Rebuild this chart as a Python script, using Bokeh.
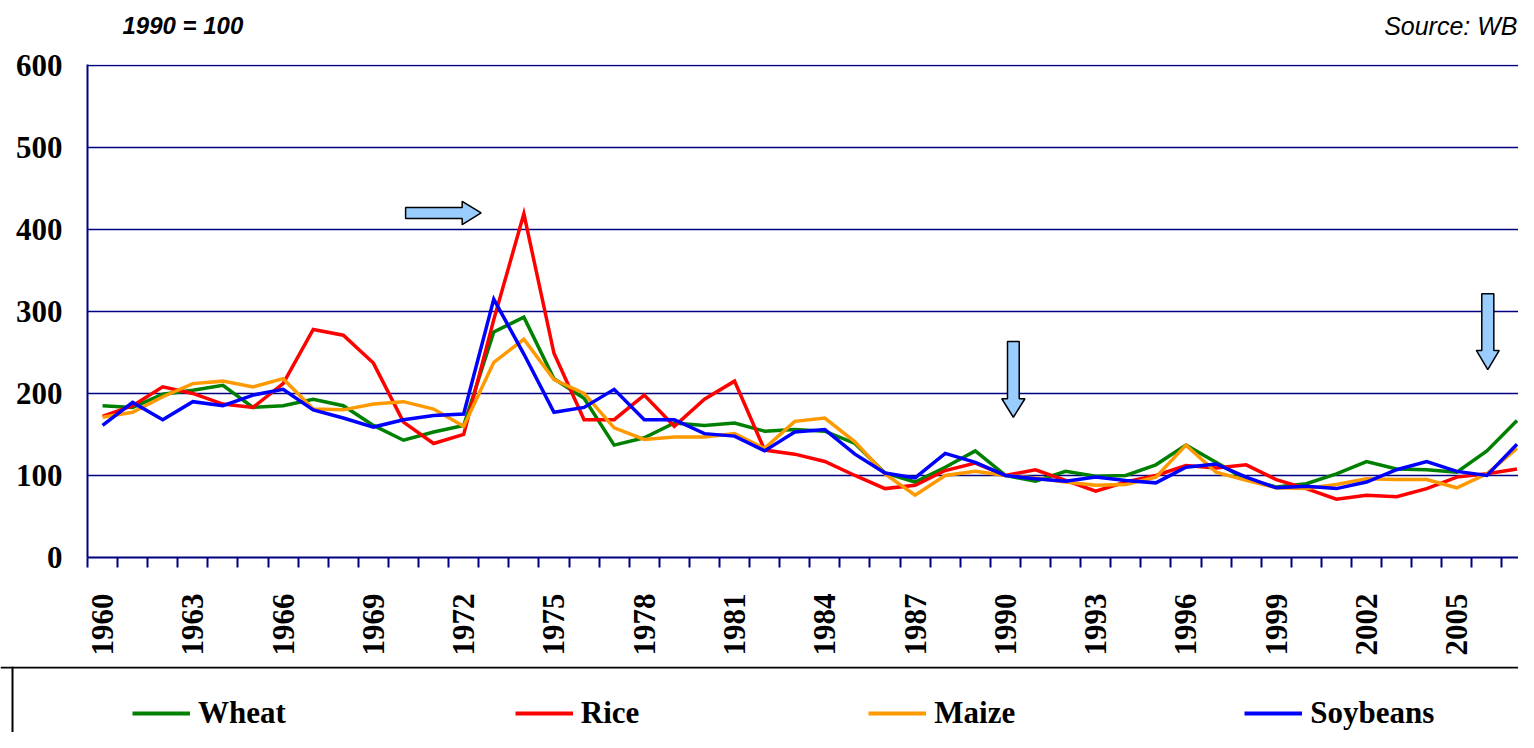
import math
from bokeh.plotting import figure
from bokeh.models import Range1d, FixedTicker, PolyAnnotation, Span, Legend, LegendItem
from bokeh.core.properties import value
from bokeh.layouts import column, row
from bokeh.embed import file_html
from bokeh.resources import INLINE

# ---------------- data (1990 = 100) ----------------
years = list(range(1960, 2008))
wheat = [185, 183, 199, 204, 210, 183, 185, 193, 185, 161, 143, 153, 161, 275, 293, 218,
         194, 137, 146, 164, 161, 164, 154, 156, 154, 139, 103, 92, 110, 130, 100, 93,
         105, 99, 100, 113, 137, 116, 95, 86, 90, 102, 117, 108, 107, 104, 130, 167]
rice = [172, 185, 208, 200, 187, 183, 212, 278, 271, 237, 165, 139, 150, 290, 419, 249,
        168, 168, 198, 160, 193, 215, 131, 126, 117, 100, 84, 88, 106, 115, 100, 107,
        94, 81, 92, 100, 112, 109, 113, 95, 84, 71, 76, 74, 84, 98, 102, 108]
maize = [171, 177, 196, 212, 215, 208, 218, 181, 180, 187, 190, 181, 160, 238, 266, 217,
         200, 158, 144, 147, 147, 151, 133, 166, 170, 141, 102, 76, 100, 105, 100, 97,
         92, 88, 89, 98, 137, 104, 94, 85, 84, 89, 96, 95, 95, 85, 102, 133]
soybeans = [161, 189, 168, 190, 185, 198, 205, 180, 170, 159, 168, 173, 175, 315, 248, 177,
            183, 205, 168, 168, 151, 148, 130, 153, 156, 126, 103, 97, 127, 116, 100, 96,
            93, 98, 94, 91, 110, 114, 98, 85, 87, 84, 92, 107, 117, 105, 100, 138]

series_names = ["Wheat", "Rice", "Maize", "Soybeans"]
series_values = [wheat, rice, maize, soybeans]
series_colors = ["#008000", "#FF0000", "#FF9900", "#0000FF"]

x_tick_labels = list(range(1960, 2006, 3))
y_ticks = [0, 100, 200, 300, 400, 500, 600]

header_left = "1990 = 100"
header_right = "Source: WB"

NAVY = "#000080"
SERIF = "Liberation Serif"
SANS = "Liberation Sans"
W = 1518
LEFT = 87
FRAME_W = W - LEFT

# ---------------- header strip ----------------
H0 = 46
p0 = figure(width=W, height=H0, x_range=Range1d(0, FRAME_W), y_range=Range1d(0, H0),
            title=None, output_backend="svg", toolbar_location=None,
            x_axis_location=None, y_axis_location=None,
            min_border_left=LEFT, min_border_right=0, min_border_top=0, min_border_bottom=0)
p0.outline_line_color = None
p0.grid.visible = False
p0.text(x=[35], y=[21], text=[header_left], text_font=value(SANS),
        text_font_style="bold italic", text_font_size="24px",
        text_baseline="alphabetic", text_align="left", text_color="black")
p0.text(x=[FRAME_W - 1], y=[21], text=[header_right], text_font=value(SANS),
        text_font_style="italic", text_font_size="25px",
        text_baseline="alphabetic", text_align="right", text_color="black")

# ---------------- main chart ----------------
p = figure(width=W, height=620, x_range=Range1d(1959.5, 2007.05), y_range=Range1d(0, 601),
           title=None, output_backend="svg", toolbar_location=None,
           min_border_left=LEFT, min_border_right=0, min_border_top=18, min_border_bottom=109)
p.outline_line_color = None

for name, vals, col in zip(series_names, series_values, series_colors):
    p.line(years, vals, line_color=col, line_width=3.5, line_join="miter")

p.xgrid.visible = False
p.yaxis.ticker = FixedTicker(ticks=y_ticks)
p.ygrid.grid_line_color = NAVY
p.ygrid.grid_line_width = 1.5

p.yaxis.axis_line_color = NAVY
p.yaxis.axis_line_width = 2
p.yaxis.major_tick_out = 0
p.yaxis.major_tick_in = 0
p.yaxis.minor_tick_out = 0
p.yaxis.minor_tick_in = 0
p.yaxis.major_label_standoff = 25
p.yaxis.major_label_text_font = SERIF
p.yaxis.major_label_text_font_style = "bold"
p.yaxis.major_label_text_font_size = "31px"
p.yaxis.major_label_text_color = "black"

p.xaxis.ticker = FixedTicker(ticks=x_tick_labels,
                             minor_ticks=[y - 0.5 for y in years] + [years[-1] + 0.5])
p.xaxis.axis_line_color = NAVY
p.xaxis.axis_line_width = 2
p.xaxis.major_tick_out = 0
p.xaxis.major_tick_in = 0
p.xaxis.minor_tick_in = 0
p.xaxis.minor_tick_out = 10
p.xaxis.minor_tick_line_color = NAVY
p.xaxis.minor_tick_line_width = 2
p.xaxis.major_label_orientation = math.pi / 2
p.xaxis.major_label_standoff = 26
p.xaxis.major_label_text_font = SERIF
p.xaxis.major_label_text_font_style = "bold"
p.xaxis.major_label_text_font_size = "31px"
p.xaxis.major_label_text_color = "black"

# block arrows (annotations)
ARROW_FILL = "#99CCFF"
arrows = [
    ([1970.07, 1971.95, 1971.95, 1972.58, 1971.95, 1971.95, 1970.07],
     [426.75, 426.75, 434.25, 420.0, 405.75, 413.25, 413.25]),
    ([1990.07, 1990.46, 1990.46, 1990.65, 1990.265, 1989.88, 1990.07],
     [263.4, 263.4, 193.5, 193.5, 171.0, 193.5, 193.5]),
    ([2005.83, 2006.23, 2006.23, 2006.41, 2006.03, 2005.65, 2005.83],
     [321.6, 321.6, 252.4, 252.4, 229.0, 252.4, 252.4]),
]
for xs, ys in arrows:
    p.add_layout(PolyAnnotation(xs=xs, ys=ys, fill_color=ARROW_FILL, fill_alpha=1.0,
                                line_color="black", line_alpha=1.0, line_width=1.5))

# ---------------- legend panel ----------------
LH = 66
p2 = figure(width=W, height=LH, x_range=Range1d(0, W), y_range=Range1d(0, LH),
            title=None, output_backend="svg", toolbar_location=None,
            x_axis_location=None, y_axis_location=None,
            min_border_left=0, min_border_right=0, min_border_top=0, min_border_bottom=0)
p2.outline_line_color = None
p2.grid.visible = False
p2.add_layout(Span(location=LH - 1, dimension="width", line_color="black", line_width=2))
p2.add_layout(Span(location=12, dimension="height", line_color="black", line_width=2))

items = []
for name, col in zip(series_names, series_colors):
    r = p2.line(x=[float("nan")], y=[float("nan")], line_color=col, line_width=4)
    items.append(LegendItem(label=name, renderers=[r]))

legend = Legend(items=items, orientation="horizontal", location=(132, 1),
                spacing=229, glyph_width=58, glyph_height=36, label_height=36,
                label_standoff=8, padding=0, margin=0,
                border_line_color=None, background_fill_alpha=0,
                label_text_font=SERIF, label_text_font_style="bold",
                label_text_font_size="31px", label_text_color="black")
p2.add_layout(legend)

layout = column(p0, p, row(p2), spacing=0)
open("out.html", "w").write(file_html(layout, INLINE))
